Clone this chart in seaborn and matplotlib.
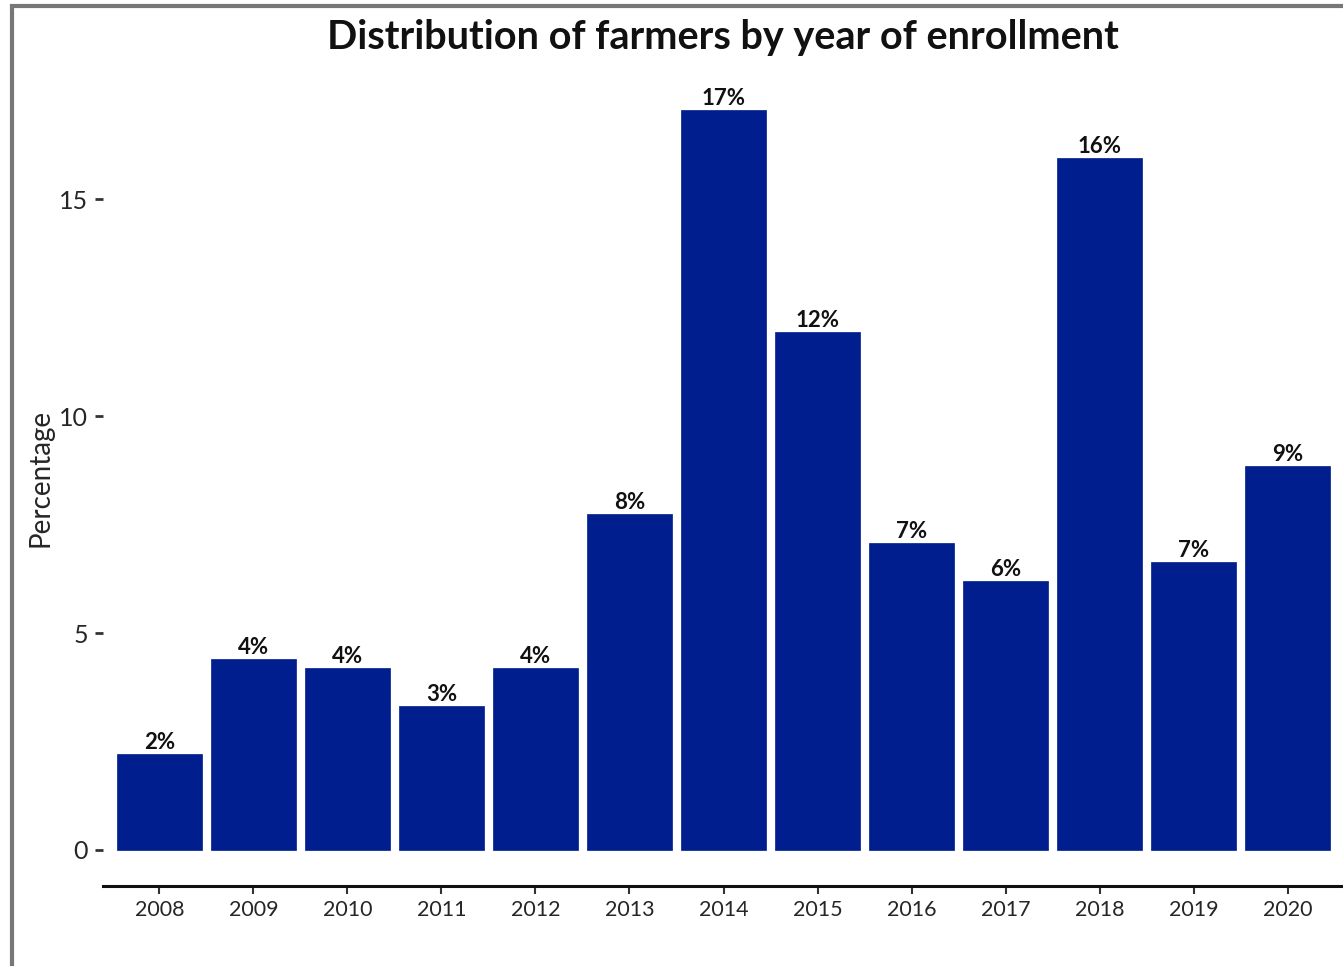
import matplotlib
matplotlib.use("Agg")
import matplotlib.pyplot as plt
import seaborn as sns
import pandas as pd
from matplotlib.patches import Rectangle

years = ["2008", "2009", "2010", "2011", "2012", "2013", "2014",
         "2015", "2016", "2017", "2018", "2019", "2020"]
percent = [2.21, 4.40, 4.19, 3.32, 4.19, 7.74, 17.05,
           11.94, 7.07, 6.20, 15.94, 6.64, 8.85]
yticks = [0, 5, 10, 15]

sns.set_style("white")
plt.rcParams['font.family'] = ['Lato', 'DejaVu Sans']

df = pd.DataFrame({"year": years, "pct": percent})

fig = plt.figure(figsize=(13.43, 9.66), dpi=100)
W, H = 1343, 966
ax = fig.add_axes([103 / W, 1 - 886 / H, 1241 / W, 817 / H])

sns.barplot(data=df, x="year", y="pct", color="#001E8E", saturation=1,
            width=0.9, ax=ax, edgecolor="#001E8E", linewidth=0.5)

labels = [f"{round(v):d}%" for v in percent]
ax.bar_label(ax.containers[0], labels=labels, padding=1,
             fontsize=16, fontweight="bold", color="#111111")

ax.set_xlim(-0.6, 12.6)
ax.set_ylim(-0.83, 18)
ax.set_yticks(yticks)
ax.set_yticklabels([str(t) for t in yticks], fontsize=18)
ax.tick_params(axis="y", length=6, width=2, color="#333333", pad=5,
               left=True)
ax.tick_params(axis="x", length=6, width=1.5, color="#333333", pad=4,
               labelsize=15.5, bottom=True)
for s in ["top", "right", "left"]:
    ax.spines[s].set_visible(False)
ax.spines["bottom"].set_linewidth(2.2)
ax.spines["bottom"].set_color("#111111")
ax.set_xlabel("")
ax.set_ylabel("Percentage", fontsize=20, labelpad=4)
ax.grid(False)

fig.text(723 / W, 1 - 38 / H, "Distribution of farmers by year of enrollment",
         ha="center", va="center", fontsize=28.5, fontweight="bold",
         color="#111111")

fig.patches.append(Rectangle((12 / W, -0.1), 1.2, 1 - 6 / H + 0.1,
                             transform=fig.transFigure, fill=False,
                             edgecolor="#777777", linewidth=3, zorder=10))

fig.savefig("out.png", dpi=100)
